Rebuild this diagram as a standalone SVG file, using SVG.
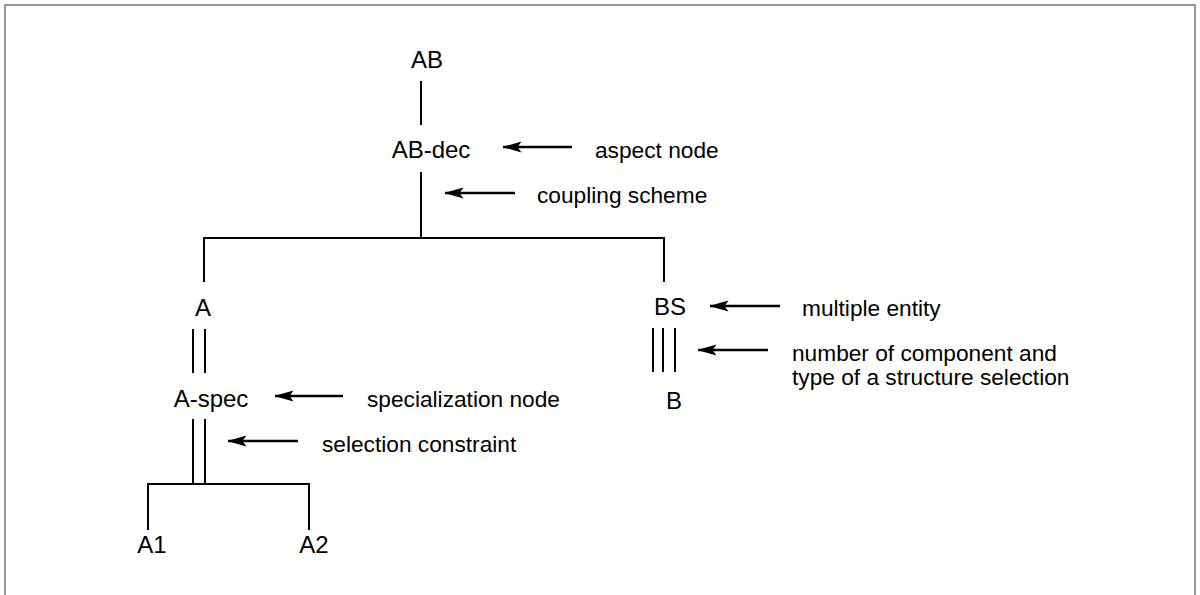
<svg xmlns="http://www.w3.org/2000/svg" width="1200" height="595" viewBox="0 0 1200 595">
  <defs>
    <marker id="ah" markerUnits="userSpaceOnUse" markerWidth="20" markerHeight="14" refX="0.5" refY="7" orient="auto">
      <path d="M0,7 L19,1.5 L15,7 L19,12.5 Z" fill="#000"/>
    </marker>
  </defs>
  <style>
    .node { font-family: "Liberation Sans", Arial, sans-serif; font-size: 24px; fill: #000; text-anchor: middle; }
    .note { font-family: "Liberation Sans", Arial, sans-serif; font-size: 22.7px; fill: #000; }
    .ln { stroke: #000; stroke-width: 2; fill: none; }
    .arr { stroke: #000; stroke-width: 2.5; fill: none; marker-start: url(#ah); }
    .frame { stroke: #777; stroke-width: 1.5; fill: none; }
  </style>
  <rect width="1200" height="595" fill="#fff"/>
  <path class="frame" d="M5,595 V5 H1195 V595"/>

  <g id="connectors">
    <line class="ln" x1="421" y1="81" x2="421" y2="125"/>
    <line class="ln" x1="421" y1="172" x2="421" y2="238"/>
    <polyline class="ln" points="204,282 204,238 664,238 664,282"/>
    <line class="ln" x1="193" y1="329" x2="193" y2="373"/>
    <line class="ln" x1="205" y1="329" x2="205" y2="373"/>
    <line class="ln" x1="653" y1="328" x2="653" y2="372"/>
    <line class="ln" x1="663" y1="328" x2="663" y2="372"/>
    <line class="ln" x1="675" y1="328" x2="675" y2="372"/>
    <line class="ln" x1="193" y1="419" x2="193" y2="484"/>
    <line class="ln" x1="205" y1="419" x2="205" y2="484"/>
    <polyline class="ln" points="148,530 148,484 309,484 309,530"/>
    <line class="arr" x1="503" y1="147" x2="572" y2="147"/>
    <line class="arr" x1="445" y1="193" x2="515" y2="193"/>
    <line class="arr" x1="710" y1="306" x2="780" y2="306"/>
    <line class="arr" x1="698" y1="350" x2="768" y2="350"/>
    <line class="arr" x1="275" y1="396" x2="343" y2="396"/>
    <line class="arr" x1="228" y1="441" x2="298" y2="441"/>
  </g>

  <g id="node-AB"><text class="node" x="427" y="68">AB</text></g>
  <g id="node-AB-dec"><text class="node" x="431" y="158">AB-dec</text></g>
  <g id="node-A"><text class="node" x="203" y="316">A</text></g>
  <g id="node-BS"><text class="node" x="670" y="315">BS</text></g>
  <g id="node-B"><text class="node" x="674" y="409">B</text></g>
  <g id="node-A-spec"><text class="node" x="211" y="407">A-spec</text></g>
  <g id="node-A1"><text class="node" x="152" y="553">A1</text></g>
  <g id="node-A2"><text class="node" x="314" y="553">A2</text></g>

  <g id="annotations">
    <text class="note" x="595" y="158">aspect node</text>
    <text class="note" x="537" y="203">coupling scheme</text>
    <text class="note" x="802" y="316">multiple entity</text>
    <text class="note" x="792" y="361">number of component and</text>
    <text class="note" x="792" y="385">type of a structure selection</text>
    <text class="note" x="367" y="407">specialization node</text>
    <text class="note" x="322" y="452">selection constraint</text>
  </g>
</svg>
